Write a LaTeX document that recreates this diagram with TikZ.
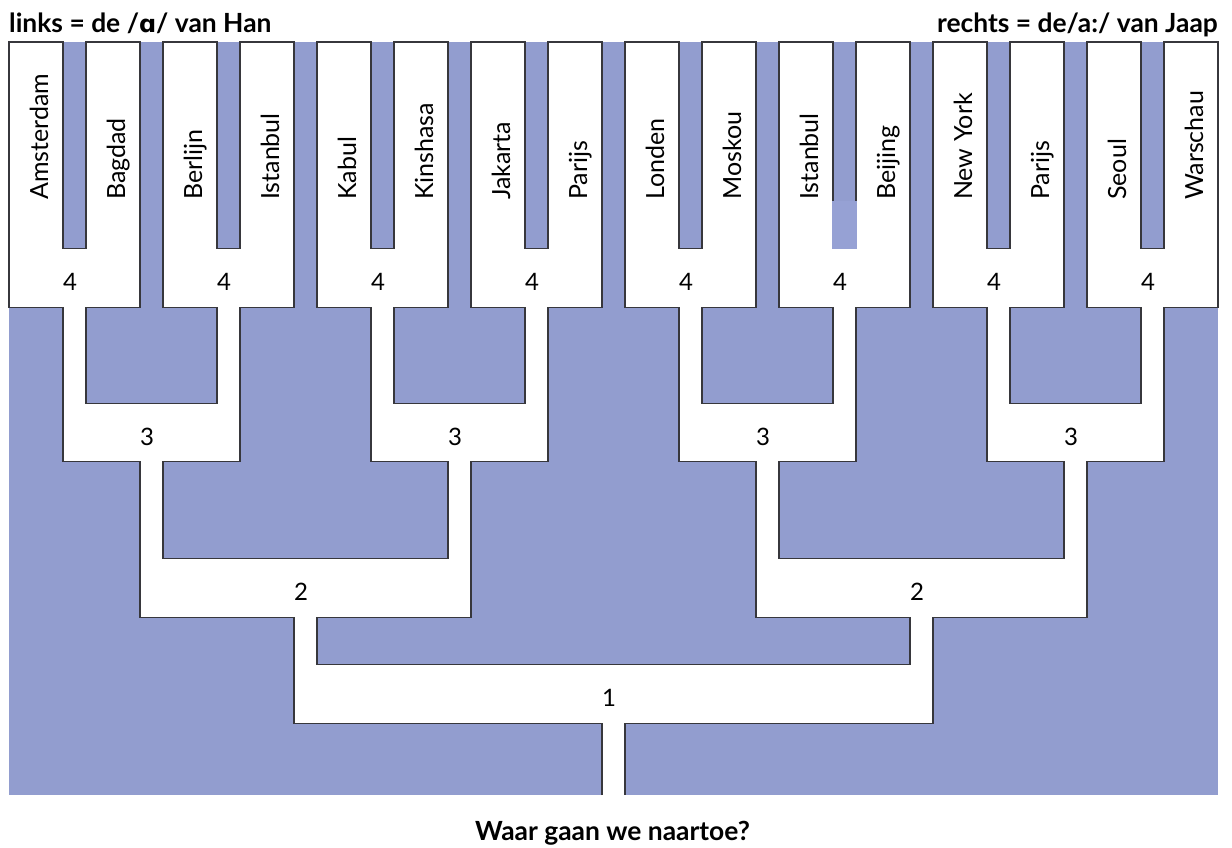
\documentclass[tikz,border=0pt]{standalone}
\usepackage{fontspec}
\setmainfont{Lato}
\newfontfamily\ipafont{DejaVu Sans}
\definecolor{bgblue}{RGB}{146,157,207}
\definecolor{bgblueL}{RGB}{150,161,212}
\definecolor{edge}{RGB}{55,55,60}
\begin{document}
\begin{tikzpicture}[x=1pt,y=-1pt,
  city/.style={rotate=90,anchor=base west,inner sep=0pt,font=\fontsize{25}{30}\selectfont},
  num/.style={anchor=base,inner sep=0pt,font=\fontsize{24}{28}\selectfont},
  ttl/.style={inner sep=0pt,font=\fontsize{26.4}{31}\selectfont\bfseries},
  outline/.style={line width=1.1pt,draw=edge,line join=miter}]
\useasboundingbox (0,0) rectangle (1232,847);
\fill[bgblue] (9,42) rectangle (1218,795);
\path[fill=white,outline]
 (602,795) -- (602,723.5) -- (294,723.5) -- (294,617.5) -- (140,617.5) -- (140,461.5) -- (63,461.5) -- (63,307.5) -- (9,307.5)
 -- (9,42) -- (63,42) -- (63,248.5) -- (86,248.5) -- (86,42) -- (140,42) -- (140,307.5)
 -- (86,307.5) -- (86,403.5) -- (217,403.5) -- (217,307.5) -- (163,307.5)
 -- (163,42) -- (217,42) -- (217,248.5) -- (240,248.5) -- (240,42) -- (294,42) -- (294,307.5)
 -- (240,307.5) -- (240,461.5) -- (163,461.5) -- (163,558.5) -- (448,558.5) -- (448,461.5) -- (371,461.5) -- (371,307.5) -- (317,307.5)
 -- (317,42) -- (371,42) -- (371,248.5) -- (394,248.5) -- (394,42) -- (448,42) -- (448,307.5)
 -- (394,307.5) -- (394,403.5) -- (525,403.5) -- (525,307.5) -- (471,307.5)
 -- (471,42) -- (525,42) -- (525,248.5) -- (548,248.5) -- (548,42) -- (602,42) -- (602,307.5)
 -- (548,307.5) -- (548,461.5) -- (471,461.5) -- (471,617.5) -- (317,617.5) -- (317,664.5) -- (910,664.5) -- (910,617.5) -- (756,617.5) -- (756,461.5) -- (679,461.5) -- (679,307.5) -- (625,307.5)
 -- (625,42) -- (679,42) -- (679,248.5) -- (702,248.5) -- (702,42) -- (756,42) -- (756,307.5)
 -- (702,307.5) -- (702,403.5) -- (833,403.5) -- (833,307.5) -- (779,307.5)
 -- (779,42) -- (833,42) -- (833,248.5) -- (856,248.5) -- (856,42) -- (910,42) -- (910,307.5)
 -- (856,307.5) -- (856,461.5) -- (779,461.5) -- (779,558.5) -- (1064,558.5) -- (1064,461.5) -- (987,461.5) -- (987,307.5) -- (933,307.5)
 -- (933,42) -- (987,42) -- (987,248.5) -- (1010,248.5) -- (1010,42) -- (1064,42) -- (1064,307.5)
 -- (1010,307.5) -- (1010,403.5) -- (1141,403.5) -- (1141,307.5) -- (1087,307.5)
 -- (1087,42) -- (1141,42) -- (1141,248.5) -- (1164,248.5) -- (1164,42) -- (1218,42) -- (1218,307.5)
 -- (1164,307.5) -- (1164,461.5) -- (1087,461.5) -- (1087,617.5) -- (933,617.5) -- (933,723.5) -- (625,723.5) -- (625,795);
\fill[bgblueL] (832.3,200.7) rectangle (856.7,249.2);
% city labels
\node[city] (c1)  at (48,200)   {Amsterdam};
\node[city] (c2)  at (125,200)  {Bagdad};
\node[city] (c3)  at (202,200)  {Berlijn};
\node[city] (c4)  at (279,200)  {Istanbul};
\node[city] (c5)  at (356,200)  {Kabul};
\node[city] (c6)  at (433,200)  {Kinshasa};
\node[city] (c7)  at (510,200)  {Jakarta};
\node[city] (c8)  at (587,200)  {Parijs};
\node[city] (c9)  at (664,200)  {Londen};
\node[city] (c10) at (741,200)  {Moskou};
\node[city] (c11) at (818,200)  {Istanbul};
\node[city] (c12) at (895,200)  {Beijing};
\node[city] (c13) at (972,200)  {New York};
\node[city] (c14) at (1049,200) {Parijs};
\node[city] (c15) at (1126,200) {Seoul};
\node[city] (c16) at (1203,200) {Warschau};
% round numbers
\foreach \x [count=\i] in {70,224,378,532,686,840,994,1148}
  \node[num] (r4-\i) at (\x,290) {4};
\foreach \x [count=\i] in {147,455,763,1071}
  \node[num] (r3-\i) at (\x,445) {3};
\node[num] (r2-1) at (301,600) {2};
\node[num] (r2-2) at (917,600) {2};
\node[num] (r1) at (609,706) {1};
% titles
\node[ttl,anchor=base west] (tl) at (9,32) {links = de /{\ipafont\bfseries\fontsize{24}{30}\selectfont ɑ}/ van Han};
\node[ttl,anchor=base east] (tr) at (1218,32) {rechts = de/a:/ van Jaap};
\node[ttl,anchor=base] (tb) at (612.5,840.5) {Waar gaan we naartoe?};
\end{tikzpicture}
\end{document}
